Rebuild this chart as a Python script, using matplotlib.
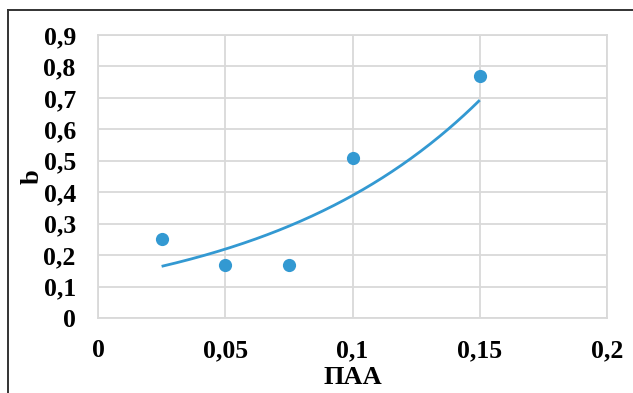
import numpy as np
import matplotlib
matplotlib.use("Agg")
import matplotlib.pyplot as plt
from matplotlib.lines import Line2D
from matplotlib.ticker import FuncFormatter, MultipleLocator

# Data
paa = [0.025, 0.05, 0.075, 0.1, 0.15]
b_vals = [0.25, 0.17, 0.17, 0.51, 0.77]
x_label = "ПАА"
y_label = "b"

plt.rcParams['font.family'] = ['Liberation Serif', 'DejaVu Serif']
plt.rcParams['font.weight'] = 'bold'

W, H = 633, 393
fig = plt.figure(figsize=(W / 100, H / 100), dpi=100)
ax = fig.add_axes([98 / W, 1 - 318 / H, (607 - 98) / W, (318 - 35) / H])

blue = '#3399D2'
grid_c = '#D9D9D9'

# Exponential trendline (least squares on log values, as Excel does)
xa = np.array(paa)
ya = np.array(b_vals)
k, ln_a = np.polyfit(xa, np.log(ya), 1)
xs = np.linspace(xa.min(), xa.max(), 200)
ax.plot(xs, np.exp(ln_a) * np.exp(k * xs), color=blue, lw=2.0, zorder=3,
        solid_capstyle='butt')
ax.plot(paa, b_vals, 'o', color=blue, ms=9.5, mec='none', zorder=4)

ax.set_xlim(0, 0.2)
ax.set_ylim(0, 0.9)
ax.xaxis.set_major_locator(MultipleLocator(0.05))
ax.yaxis.set_major_locator(MultipleLocator(0.1))

def fmt(v, pos):
    if abs(v) < 1e-9:
        return "0"
    s = f"{v:.2f}".rstrip('0').rstrip('.')
    return s.replace('.', ',')

ax.xaxis.set_major_formatter(FuncFormatter(fmt))
ax.yaxis.set_major_formatter(FuncFormatter(fmt))

ax.grid(True, color=grid_c, lw=1.3)
ax.set_axisbelow(True)
for sp in ax.spines.values():
    sp.set_color(grid_c)
    sp.set_linewidth(1.3)
ax.tick_params(length=0, labelsize=18.5)
ax.tick_params(axis='x', pad=15)
ax.tick_params(axis='y', pad=16)
for lab in ax.get_xticklabels() + ax.get_yticklabels():
    lab.set_fontweight('bold')

ax.set_xlabel(x_label, fontsize=19, fontweight='bold', labelpad=3)
ax.set_ylabel(y_label, fontsize=19, fontweight='bold', labelpad=0)

# Outer frame (left and top visible)
fig.add_artist(Line2D([8 / W, 8 / W], [0, 1 - 10 / H], transform=fig.transFigure,
                      color='#333333', lw=1.4))
fig.add_artist(Line2D([8 / W, 1], [1 - 10 / H, 1 - 10 / H], transform=fig.transFigure,
                      color='#333333', lw=1.4))

fig.savefig("out.png", dpi=100)
